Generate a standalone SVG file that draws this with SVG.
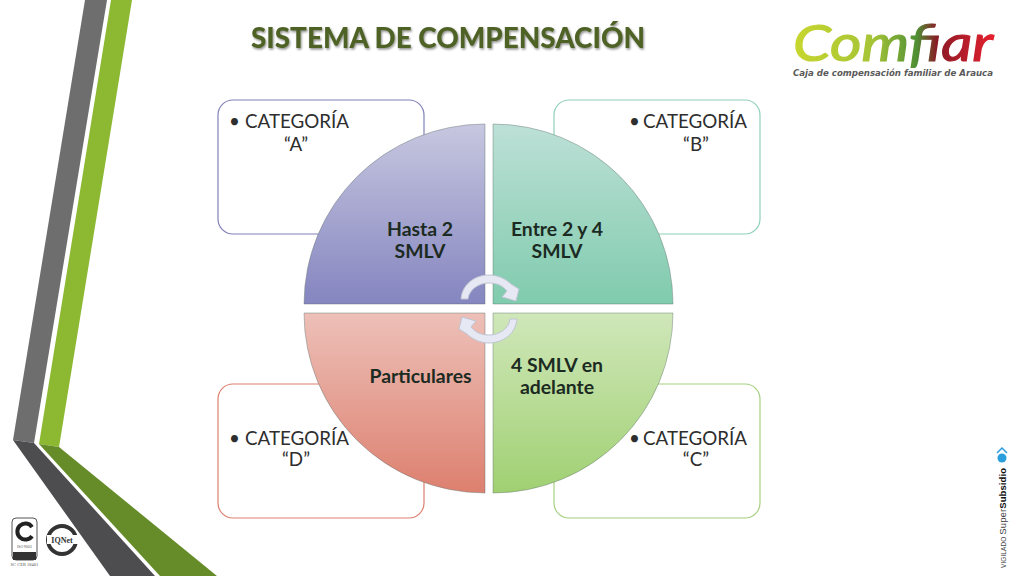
<svg xmlns="http://www.w3.org/2000/svg" width="1024" height="576" viewBox="0 0 1024 576">
<style>
.card{fill:#fff;stroke-width:1.2}
.cat{font:18.800px Lato,"Open Sans",sans-serif;fill:#2e2e2e}
.lbl{font:bold 19.400px Lato,"Open Sans",sans-serif;fill:#1c2b22;text-anchor:middle}
.quad{stroke:#5f6f6a;stroke-width:.6;stroke-opacity:.7}
.arrow{fill:#e6e8f3;stroke:#bfc5d2;stroke-width:1}
</style>
<defs>
<linearGradient id="gA" x1="0" y1="0" x2="0" y2="1"><stop offset="0" stop-color="#c7c7e0"/><stop offset="1" stop-color="#8585c0"/></linearGradient>
<linearGradient id="gB" x1="0" y1="0" x2="0" y2="1"><stop offset="0" stop-color="#bde0d6"/><stop offset="1" stop-color="#80cbae"/></linearGradient>
<linearGradient id="gC" x1="0" y1="0" x2="0" y2="1"><stop offset="0" stop-color="#d0e7ba"/><stop offset="1" stop-color="#a0d072"/></linearGradient>
<linearGradient id="gD" x1="0" y1="0" x2="0" y2="1"><stop offset="0" stop-color="#edc0b8"/><stop offset="1" stop-color="#dd806f"/></linearGradient>
<linearGradient id="gLogo" gradientUnits="userSpaceOnUse" x1="793" y1="0" x2="993" y2="0"><stop offset="0" stop-color="#c8d62e"/><stop offset=".4" stop-color="#a5c436"/><stop offset=".62" stop-color="#4f8f34"/><stop offset=".72" stop-color="#8a1a26"/><stop offset="1" stop-color="#e4202e"/></linearGradient>
<filter id="sh" x="-5%" y="-30%" width="110%" height="170%"><feDropShadow dx="1" dy="1.500" stdDeviation="1.200" flood-color="#000" flood-opacity=".45"/></filter>
</defs>
<rect width="1024" height="576" fill="#fff"/>
<g id="background-bands">
<polygon points="85,0 107,0 34,443 13,440" fill="#6e6e6e"/>
<polygon points="111,0 132,0 59,447 39,444" fill="#8cb832"/>
<polygon points="13,440 34,443 155,576 110,576" fill="#4d4d4f"/>
<polygon points="39,444 59,447 217,576 160,576" fill="#668c2a"/>
</g>
<g id="title"><text x="251" y="48" font-family="Lato,sans-serif" font-weight="900" font-size="29" fill="#4f6228" filter="url(#sh)" textLength="394" lengthAdjust="spacingAndGlyphs">SISTEMA DE COMPENSACIÓN</text></g>
<g id="logo-comfiar">
<text x="793" y="61" font-family="Lato,sans-serif" font-style="italic" font-size="50" fill="url(#gLogo)" stroke="url(#gLogo)" stroke-width="1.200" textLength="200" lengthAdjust="spacingAndGlyphs">Comfiar</text>
<text x="793" y="76" font-family="DejaVu Sans,sans-serif" font-style="italic" font-weight="bold" font-size="8.800" fill="#5a5a5a" textLength="200" lengthAdjust="spacingAndGlyphs">Caja de compensación familiar de Arauca</text>
</g>
<g id="card-a"><rect class="card" x="218" y="100" width="206" height="134" rx="15" stroke="#8080b8"/>
<text class="cat" x="229" y="128">•</text><text class="cat" x="245" y="128">CATEGORÍA</text><text class="cat" x="296" y="151" text-anchor="middle">“A”</text></g>
<g id="card-b"><rect class="card" x="554" y="100" width="206" height="134" rx="15" stroke="#8fd0b8"/>
<text class="cat" x="629" y="128">•</text><text class="cat" x="643" y="128">CATEGORÍA</text><text class="cat" x="696" y="151" text-anchor="middle">“B”</text></g>
<g id="card-d"><rect class="card" x="218" y="384" width="206" height="134" rx="15" stroke="#dc8070"/>
<text class="cat" x="229" y="445">•</text><text class="cat" x="245" y="445">CATEGORÍA</text><text class="cat" x="296" y="466" text-anchor="middle">“D”</text></g>
<g id="card-c"><rect class="card" x="554" y="384" width="206" height="134" rx="15" stroke="#a6d080"/>
<text class="cat" x="629" y="445">•</text><text class="cat" x="643" y="445">CATEGORÍA</text><text class="cat" x="696" y="466" text-anchor="middle">“C”</text></g>
<g id="quad-a"><path class="quad" d="M485,124V304H304A181,180 0 0 1 485,124Z" fill="url(#gA)"/>
<text class="lbl" x="420" y="236">Hasta 2</text><text class="lbl" x="420" y="258">SMLV</text></g>
<g id="quad-b"><path class="quad" d="M493,124V304H673A180,180 0 0 0 493,124Z" fill="url(#gB)"/>
<text class="lbl" x="557" y="236">Entre 2 y 4</text><text class="lbl" x="557" y="258">SMLV</text></g>
<g id="quad-c"><path class="quad" d="M493,493V313H673A180,180 0 0 1 493,493Z" fill="url(#gC)"/>
<text class="lbl" x="557" y="372">4 SMLV en</text><text class="lbl" x="557" y="394">adelante</text></g>
<g id="quad-d"><path class="quad" d="M485,493V313H304A181,180 0 0 0 485,493Z" fill="url(#gD)"/>
<text class="lbl" x="420.500" y="383">Particulares</text></g>
<g id="connectors">
<path class="arrow" d="M461,299C462,285 474,275 489,275C498,275 506,279 511,284L519,289L516,301L502,297L507,291C503,286 497,283 489,283C478,283 469,290 468,299Z"/>
<path class="arrow" d="M517,319C516,333 504,343 489,343C480,343 472,339 467,334L459,329L462,317L476,321L471,327C475,332 481,335 489,335C500,335 509,328 510,319Z"/>
</g>
<g id="cert-isotec">
<rect x="12" y="518" width="25" height="42" rx="4" fill="#fff" stroke="#555" stroke-width="1"/>
<path d="M32,527A8,8 0 1 0 32,536" fill="none" stroke="#222" stroke-width="4"/>
<rect x="13" y="552" width="23" height="8" fill="#333"/>
<text x="24.500" y="548" font-family="Liberation Sans,sans-serif" font-size="3.500" text-anchor="middle" fill="#555">ISO 9001</text>
<text x="24.500" y="566" font-family="Liberation Serif,serif" font-size="4.500" text-anchor="middle" fill="#555">SC CER 18401</text>
</g>
<g id="cert-iqnet">
<circle cx="62" cy="540" r="14" fill="#fff" stroke="#333" stroke-width="4"/>
<rect x="47" y="535" width="31" height="9" fill="#fff"/>
<text x="62" y="543" font-family="Liberation Serif,serif" font-weight="bold" font-size="8" text-anchor="middle" fill="#333">IQNet</text>
</g>
<g id="vigilado">
<path d="M997,453L1002,448L1007,453" fill="none" stroke="#2b9fdc" stroke-width="1.500"/>
<circle cx="1002" cy="458" r="4.500" fill="#2b9fdc"/>
<text transform="translate(1006,568) rotate(-90)" font-family="Liberation Sans,sans-serif" font-size="9.500" fill="#444" textLength="100"><tspan font-size="6.500">VIGILADO </tspan>Super<tspan font-weight="bold" fill="#111">Subsidio</tspan></text>
</g>
</svg>
